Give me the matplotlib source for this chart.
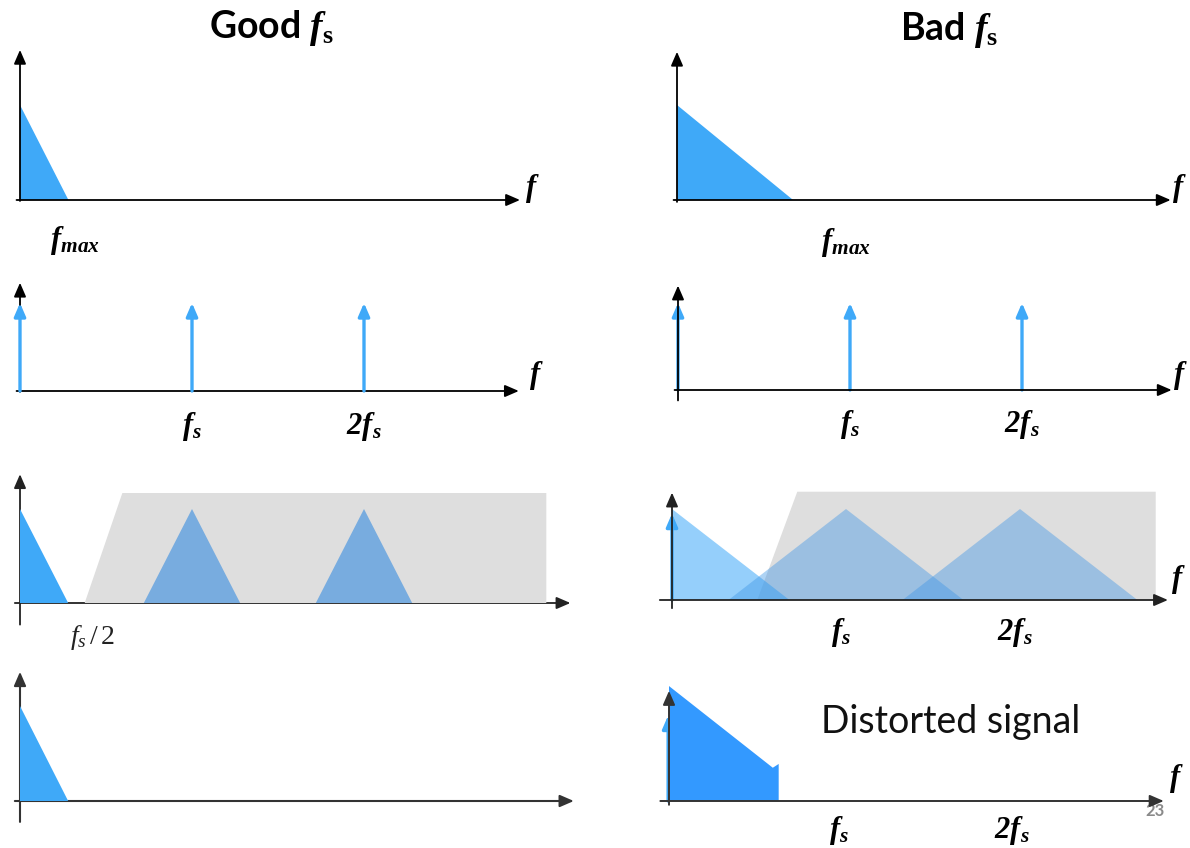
import matplotlib
matplotlib.use("Agg")
import matplotlib.pyplot as plt
from matplotlib.patches import Polygon

plt.rcParams.update({
    "mathtext.fontset": "custom",
    "mathtext.rm": "Liberation Serif",
    "mathtext.it": "Liberation Serif:italic",
    "mathtext.bf": "Liberation Serif:bold",
    "mathtext.bfit": "Liberation Serif:italic:bold",
    "mathtext.sf": "Lato:bold",
    "mathtext.fallback": "stix",
})

# ---------------- data (frequency in units of f_s, amplitude peak = 1) ----------------
FS = 1.0
FMAX_GOOD = 0.28            # f_max / f_s for the good sampling rate
FMAX_BAD = 0.675            # f_max / f_s for the bad sampling rate
IMPULSE_K = [0, 1, 2]       # impulse train at k * f_s
PEAK = 1.0
IMPULSE_H_GOOD = 1.0
IMPULSE_H_BAD = 1.0
# image-rejection (grey) region: bottom-left, top-left, right edge, height
GREY_GOOD = [0.376, 0.595, 3.06]
GREY_H_GOOD = 1.17
GREY_BAD = [0.49, 0.72, 2.78]
GREY_H_BAD = 1.19
# reconstructed (distorted) spectrum for the bad case
DIST_X = [0.0, 0.0, 0.60, 0.634, 0.634]
DIST_Y = [0.0, 1.21, 0.35, 0.39, 0.0]
TITLES = [r"$\mathsf{Good}\ \mathbfit{f}_{\mathbf{s}}$", r"$\mathsf{Bad}\ \mathbfit{f}_{\mathbf{s}}$"]
TICK_LABELS = [r"$\mathbfit{f}_{\mathbfit{s}}$", r"$\mathbfit{2f}_{\mathbfit{s}}$"]
FMAX_LABEL = r"$\mathbfit{f}_{\mathbfit{max}}$"
HALF_FS_LABEL = r"$f_s\,/\,2$"
AXIS_LABEL = r"$\mathbfit{f}$"
NOTE = "Distorted signal"
PAGE = "23"

BLUE = "#3FA9F8"
BLUE_DARK = "#3399FF"
GREY = "#DEDEDE"
SHIFT_GOOD = "#78ACDF"

W, H = 1190, 848
fig = plt.figure(figsize=(W / 100, H / 100), dpi=100)
fig.patch.set_facecolor("white")


def panel(ox, oy, sx, sy, xlim=(-0.15, 3.4), ylim=(-0.6, 1.8)):
    left = ox + xlim[0] * sx
    width = (xlim[1] - xlim[0]) * sx
    top = oy - ylim[1] * sy
    height = (ylim[1] - ylim[0]) * sy
    ax = fig.add_axes([left / W, 1 - (top + height) / H, width / W, height / H])
    ax.set_xlim(*xlim)
    ax.set_ylim(*ylim)
    ax.axis("off")
    ax.patch.set_visible(False)
    return ax


def arrow(ax, p0, p1, color="black", lw=1.3, ms=14, z=5):
    ax.annotate("", xy=p1, xytext=p0, zorder=z,
                arrowprops=dict(arrowstyle="-|>,head_length=0.6,head_width=0.26",
                                color=color, lw=lw, mutation_scale=ms,
                                shrinkA=0, shrinkB=0))


def axes_arrows(ax, x0, x1, yb, yt, color="black", lw=1.3, z=5):
    arrow(ax, (x0, 0), (x1, 0), color=color, lw=lw, z=z)
    arrow(ax, (0, yb), (0, yt), color=color, lw=lw, z=z)


def impulse(ax, x, h, z=4):
    arrow(ax, (x, 0), (x, h), color=BLUE, lw=2.4, ms=13, z=z)


def tri_right(ax, fmax, h, color, alpha=1.0, z=2):
    ax.add_patch(Polygon([(0, 0), (0, h), (fmax, 0)], closed=True,
                         facecolor=color, edgecolor="none", alpha=alpha, zorder=z))


def tri_centered(ax, c, fmax, h, color, alpha=1.0, z=2):
    ax.add_patch(Polygon([(c - fmax, 0), (c, h), (c + fmax, 0)], closed=True,
                         facecolor=color, edgecolor="none", alpha=alpha, zorder=z))


def grey_region(ax, g, h, z=1):
    ax.add_patch(Polygon([(g[0], 0), (g[1], h), (g[2], h), (g[2], 0)], closed=True,
                         facecolor=GREY, edgecolor="none", zorder=z))


LBL = 22

# ================= Left column: good f_s =================
# P1: baseband spectrum
ax = panel(20, 200, 173, 95)
tri_right(ax, FMAX_GOOD, PEAK, BLUE)
axes_arrows(ax, -0.02, 2.89, -0.01, 1.58)
ax.text(2.96, 0.12, AXIS_LABEL, fontsize=LBL, ha="center", va="center")
ax.text(0.32, -0.43, FMAX_LABEL, fontsize=LBL, ha="center", va="center")

# P2: impulse train
ax = panel(20, 391, 172, 88)
axes_arrows(ax, -0.02, 2.9, -0.01, 1.23, z=3)
for k in IMPULSE_K:
    impulse(ax, k * FS, IMPULSE_H_GOOD)
ax.text(3.0, 0.18, AXIS_LABEL, fontsize=LBL, ha="center", va="center")
for k, lab in zip(IMPULSE_K[1:], TICK_LABELS):
    ax.text(k * FS, -0.4, lab, fontsize=LBL, ha="center", va="center")

# P3: sampled spectrum
ax = panel(20, 603, 172, 94)
grey_region(ax, GREY_GOOD, GREY_H_GOOD)
tri_right(ax, FMAX_GOOD, PEAK, BLUE)
for k in IMPULSE_K[1:]:
    tri_centered(ax, k * FS, FMAX_GOOD, PEAK, SHIFT_GOOD)
axes_arrows(ax, -0.03, 3.2, -0.23, 1.37, color="#222222", lw=1.3, z=0.5)
ax.text(0.42, -0.37, HALF_FS_LABEL, fontsize=20, ha="center", va="center",
        color="#222222")

# P4: reconstructed spectrum
ax = panel(20, 801, 172, 95)
tri_right(ax, FMAX_GOOD, PEAK, BLUE)
axes_arrows(ax, -0.03, 3.22, -0.22, 1.36, color="#333333", lw=1.5, z=1)

# ================= Right column: bad f_s =================
ax = panel(677, 200, 172, 95)
tri_right(ax, FMAX_BAD, PEAK, BLUE)
axes_arrows(ax, -0.02, 2.87, -0.02, 1.56)
ax.text(2.92, 0.12, AXIS_LABEL, fontsize=LBL, ha="center", va="center")
ax.text(0.98, -0.45, FMAX_LABEL, fontsize=LBL, ha="center", va="center")

ax = panel(678, 390, 172, 87)
for k in IMPULSE_K:
    impulse(ax, k * FS, IMPULSE_H_BAD, z=3)
axes_arrows(ax, -0.02, 2.87, -0.12, 1.2, z=5)
ax.text(2.92, 0.17, AXIS_LABEL, fontsize=LBL, ha="center", va="center")
for k, lab in zip(IMPULSE_K[1:], TICK_LABELS):
    ax.text(k * FS, -0.4, lab, fontsize=LBL, ha="center", va="center")

ax = panel(672, 600, 174, 91)
grey_region(ax, GREY_BAD, GREY_H_BAD)
impulse(ax, 0, 0.95, z=1.5)
tri_right(ax, FMAX_BAD, PEAK, BLUE, alpha=0.55, z=2)
for k in IMPULSE_K[1:]:
    tri_centered(ax, k * FS, FMAX_BAD, PEAK, "#3F96E6", alpha=0.42, z=3)
axes_arrows(ax, -0.07, 2.85, -0.09, 1.18, color="#222222", z=5)
ax.text(2.91, 0.22, AXIS_LABEL, fontsize=LBL, ha="center", va="center")
for k, lab in zip(IMPULSE_K[1:], TICK_LABELS):
    ax.text(k * FS - 0.03, -0.36, lab, fontsize=LBL, ha="center", va="center")

ax = panel(669, 801, 173, 95)
impulse(ax, -0.005, 0.9, z=1)
ax.add_patch(Polygon(list(zip(DIST_X, DIST_Y)), closed=True, facecolor=BLUE_DARK,
                     edgecolor="none", zorder=2))
axes_arrows(ax, -0.05, 2.86, -0.04, 1.16, color="#333333", lw=1.4, z=5)
ax.text(2.93, 0.24, AXIS_LABEL, fontsize=LBL, ha="center", va="center")
for k, lab in zip(IMPULSE_K[1:], TICK_LABELS):
    ax.text(k * FS - 0.02, -0.31, lab, fontsize=LBL, ha="center", va="center")
ax.text(1.63, 0.83, NOTE, fontsize=27, family="Lato", ha="center", va="center",
        color="#111111")
ax.text(2.81, -0.1, PAGE, fontsize=12, family="Lato", weight="bold",
        ha="center", va="center", color="#8A8A8A")

# ---------------- column titles ----------------
fig.text(271 / W, 1 - 28 / H, TITLES[0], fontsize=27, ha="center", va="center")
fig.text(949 / W, 1 - 30 / H, TITLES[1], fontsize=27, ha="center", va="center")

fig.savefig("out.png", dpi=100, facecolor="white")
